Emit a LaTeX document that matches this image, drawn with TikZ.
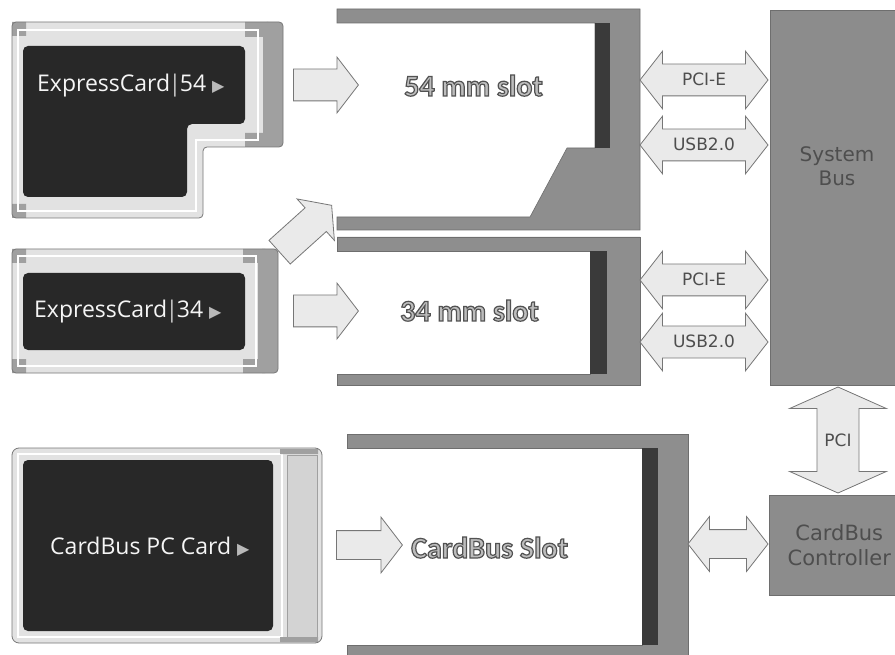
\documentclass[tikz,border=0pt]{standalone}
\usepackage{fontspec}
\setmainfont{Open Sans}
\newfontfamily\slotfont{Carlito}
\newfontfamily\labelfont{DejaVu Sans}
\usetikzlibrary{shapes.arrows, calc, positioning}

\definecolor{SlotGray}{RGB}{142,142,142}
\definecolor{SlotEdge}{RGB}{110,110,110}
\definecolor{SlotDark}{RGB}{58,58,58}
\definecolor{BusGray}{RGB}{140,140,140}
\definecolor{ArrowFill}{RGB}{234,234,234}
\definecolor{ArrowEdge}{RGB}{118,118,118}
\definecolor{CardDark}{RGB}{40,40,40}
\definecolor{CardLight}{RGB}{226,226,226}
\definecolor{CardGray}{RGB}{160,160,160}
\definecolor{CardEdge}{RGB}{120,120,120}
\definecolor{LabelGray}{RGB}{78,78,78}

% outlined slot captions
\newcommand{\hollowtext}[1]{\special{pdf:literal direct 2 Tr 1.2 w 0.32 G 0.74 g}#1\special{pdf:literal direct 0 Tr 0 g 0 G}}
\newcommand{\playmark}{\hspace{6pt}{\labelfont\color{gray!55}\fontsize{16}{16}\selectfont ▶}}
\newcommand{\cardbar}{\kern-1.5pt{\color{gray!45}|}\kern-1.5pt}

\begin{document}
\begin{tikzpicture}[x=1pt, y=-1pt,
    cardbody/.style={fill=CardLight, rounded corners=4pt},
    cardedge/.style={draw=CardEdge, line width=0.8pt, rounded corners=4pt},
    cardface/.style={fill=CardDark, rounded corners=5pt},
    cardtext/.style={text=white!92!gray, font=\fontsize{23}{25}\selectfont, inner sep=0pt, anchor=base west},
    slotwall/.style={fill=SlotGray, draw=SlotEdge, line width=0.6pt},
    slotback/.style={fill=SlotDark},
    slottext/.style={font=\slotfont\bfseries\fontsize{30}{32}\selectfont, inner sep=0pt, anchor=base west},
    blockarrow/.style={single arrow, draw=ArrowEdge, fill=ArrowFill, line width=0.8pt,
                       single arrow head extend=12pt, single arrow tip angle=105,
                       inner xsep=0pt, inner ysep=15.5pt},
    busarrow/.style={double arrow, draw=ArrowEdge, fill=ArrowFill, line width=0.8pt,
                     double arrow head extend=13pt, double arrow tip angle=104,
                     inner xsep=0pt, inner ysep=9.5pt, text height=12pt, text depth=0pt,
                     text=LabelGray, font=\labelfont\fontsize{17}{19}\selectfont},
    busbox/.style={rectangle, fill=BusGray, draw=SlotEdge, line width=0.5pt, inner sep=0pt,
                   anchor=north west},
    bustext/.style={align=center, text=LabelGray, inner sep=0pt,
                    font=\labelfont\fontsize{20}{24}\selectfont}
]
\useasboundingbox[fill=white] (0,0) rectangle (895,655);

% ExpressCard 54
\fill[cardbody] (12,22) -- (283,22) -- (283,147) -- (203,147) -- (203,218) -- (12,218) -- cycle;
\fill[CardGray, rounded corners=4pt] (263,22) -- (283,22) -- (283,147) -- (263,147) -- cycle;
\fill[CardGray] (245,22) rectangle (268,37) (245,133) rectangle (268,147);
\fill[CardGray] (12,22) rectangle (26,36) (12,204) rectangle (26,218);
\draw[white, line width=1.2pt] (18,30) -- (258,30) -- (258,140) -- (196,140) -- (196,211) -- (18,211) -- cycle;
\draw[cardedge] (12,22) -- (283,22) -- (283,147) -- (203,147) -- (203,218) -- (12,218) -- cycle;
\fill[cardface] (23,46) -- (245,46) -- (245,124) -- (187,124) -- (187,197) -- (23,197) -- cycle;
\node[cardtext] (ec54) at (37,92) {ExpressCard\cardbar54\playmark};

% ExpressCard 34
\fill[cardbody] (12,249) rectangle (278,373);
\fill[CardGray, rounded corners=4pt] (258,249) rectangle (278,373);
\fill[CardGray] (243,249) rectangle (265,263) (243,359) rectangle (265,373);
\fill[CardGray] (12,249) rectangle (26,263) (12,359) rectangle (26,373);
\draw[white, line width=1.2pt] (18,256) rectangle (256,366);
\draw[cardedge] (12,249) rectangle (278,373);
\fill[cardface] (23,273) rectangle (245,350);
\node[cardtext] (ec34) at (34,318) {ExpressCard\cardbar34\playmark};

% CardBus PC Card
\fill[cardbody, rounded corners=7pt] (12,448) rectangle (322,643);
\draw[white, line width=1.2pt] (18,454) rectangle (282,637);
\fill[CardGray] (280,449) rectangle (318,454) (280,637) rectangle (318,642);
\filldraw[fill=CardLight!85!gray, draw=CardEdge!70, line width=0.6pt] (287,455) rectangle (317,637);
\draw[cardedge, rounded corners=7pt] (12,448) rectangle (322,643);
\fill[cardface] (23,460) rectangle (273,631);
\node[cardtext] (pccard) at (50,554) {CardBus PC Card\playmark};

% slots
\draw[slotwall] (337,9) -- (640,9) -- (640,230) -- (337,230) -- (337,217) -- (530,217)
    -- (567,148) -- (595,148) -- (595,23) -- (337,23) -- cycle;
\fill[slotback] (595,23) rectangle (610,148);
\node[slottext] (slot54) at (404,96) {\hollowtext{54 mm slot}};

\draw[slotwall] (337,237) -- (640,237) -- (640,385) -- (337,385) -- (337,374) -- (590,374)
    -- (590,251) -- (337,251) -- cycle;
\fill[slotback] (590,251) rectangle (607,374);
\node[slottext] (slot34) at (400,321) {\hollowtext{34 mm slot}};

\draw[slotwall] (347,434) -- (688,434) -- (688,665) -- (347,665) -- (347,645) -- (642,645)
    -- (642,448) -- (347,448) -- cycle;
\fill[slotback] (642,448) rectangle (658,645);
\node[slottext] (cbslot) at (411,558) {\hollowtext{CardBus Slot}};

% bus and controller
\node[busbox, minimum width=140pt, minimum height=375pt] (sysbus) at (770,10) {};
\node[bustext] (systext) at (837,166) {System\\Bus};
\node[busbox, minimum width=140pt, minimum height=100pt, align=center, text=LabelGray,
      font=\labelfont\fontsize{21}{25}\selectfont] (ctrl) at (769,495) {CardBus\\Controller};

% card to slot arrows
\node[blockarrow, minimum height=65pt, anchor=tail] (in54) at (293,85) {};
\node[blockarrow, minimum height=65pt, anchor=tail] (in34) at (293,311) {};
\node[blockarrow, minimum height=66pt, anchor=tail, inner ysep=14pt, single arrow head extend=13.5pt] (incb) at (336,545) {};
\node[blockarrow, minimum height=70pt, anchor=tip, rotate=42] (in34up) at (332,205) {};

% slot to bus arrows
\node[busarrow, minimum height=128pt] (pcie54) at (704,80) {PCI-E};
\node[busarrow, minimum height=128pt] (usb54) at (704,145) {USB2.0};
\node[busarrow, minimum height=128pt] (pcie34) at (704,280) {PCI-E};
\node[busarrow, minimum height=128pt] (usb34) at (704,342) {USB2.0};
\node[busarrow, minimum height=80pt, text height=0pt, inner ysep=14pt] (cblink) at (728,544) {};
\node[busarrow, minimum height=106pt, shape border rotate=90, inner xsep=7pt,
      double arrow head extend=27.5pt, double arrow tip angle=132] (pci) at (838,440) {PCI};
\end{tikzpicture}
\end{document}
